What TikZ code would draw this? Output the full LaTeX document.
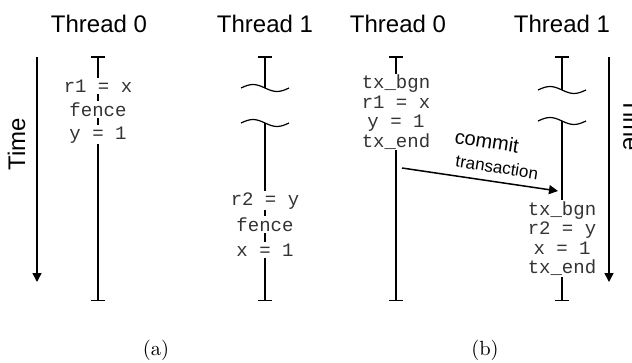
\documentclass[tikz,border=0pt]{standalone}
\usepackage{fontspec}
\newfontfamily\hel{Liberation Sans}
\newfontfamily\cour{Liberation Mono}
\usetikzlibrary{arrows.meta}
\begin{document}
\begin{tikzpicture}[x=1pt,y=-1pt,line width=1.5pt,
  title/.style={font=\hel\fontsize{24}{28}\selectfont,inner sep=0pt},
  timelbl/.style={font=\hel\fontsize{24}{28}\selectfont,inner sep=0pt},
  stmt/.style={font=\cour\fontsize{19}{19.5}\selectfont,text=black!80,fill=white,inner sep=1.5pt,anchor=base},
  blk/.style={font=\cour\fontsize{19}{19.5}\selectfont,text=black!80,fill=white,inner sep=1pt,align=center},
  commitlbl/.style={font=\hel\fontsize{20}{22}\selectfont,inner sep=0pt,rotate=-9},
  translbl/.style={font=\hel\fontsize{17}{19}\selectfont,inner sep=0pt,rotate=-9},
  caplbl/.style={inner sep=0pt},
  wave/.style={line width=1.2pt},
  barboth/.style={{Bar[width=14pt]}-{Bar[width=14pt]}},
  barstart/.style={{Bar[width=14pt]}-},
  barend/.style={-{Bar[width=14pt]}},
  tarrow/.style={-{Triangle[length=9pt,width=9pt]}}]
\useasboundingbox (0,0) rectangle (632,362);

% titles
\node[title] (ta0) at (99,23.5) {Thread 0};
\node[title] (ta1) at (265,23.5) {Thread 1};
\node[title] (tb0) at (398,23.5) {Thread 0};
\node[title] (tb1) at (562,23.5) {Thread 1};

% time arrows
\coordinate (tla) at (37,57);
\coordinate (tlb) at (37,282);
\draw[tarrow] (tla) -- (tlb);
\node[timelbl,rotate=90] (timea) at (16.5,144) {Time};
\coordinate (tra) at (609,57);
\coordinate (trb) at (609,282);
\draw[tarrow] (tra) -- (trb);
\node[timelbl,rotate=-90] (timeb) at (632,125) {Time};

% (a) thread 0
\coordinate (a0t) at (98,56);
\coordinate (a0b) at (98,301);
\draw[barboth] (a0t) -- (a0b);
\node[stmt] (a0s1) at (98,92) {r1 = x};
\node[stmt] (a0s2) at (98,116.5) {fence};
\node[stmt] (a0s3) at (98,139) {y = 1};

% (a) thread 1
\coordinate (a1t) at (265,56);
\coordinate (a1w1) at (265,88);
\coordinate (a1w2) at (265,123);
\coordinate (a1b) at (265,301);
\draw[barstart] (a1t) -- (a1w1);
\draw[wave] (a1w1) ++(-24,0) sin ++(12,-3.5) cos ++(12,3.5) sin ++(12,3.5) cos ++(12,-3.5);
\draw[wave] (a1w2) ++(-24,0) sin ++(12,-3.5) cos ++(12,3.5) sin ++(12,3.5) cos ++(12,-3.5);
\draw[barend] (a1w2) -- (a1b);
\node[stmt] (a1s1) at (265,205) {r2 = y};
\node[stmt] (a1s2) at (265,231.5) {fence};
\node[stmt] (a1s3) at (265,256) {x = 1};

% (b) thread 0
\coordinate (b0t) at (396,56);
\coordinate (b0b) at (396,301);
\draw[barboth] (b0t) -- (b0b);
\node[blk] (b0blk) at (396,112) {tx\_bgn\\r1 = x\\y = 1\\tx\_end};

% (b) thread 1
\coordinate (b1t) at (562,56);
\coordinate (b1w1) at (562,90);
\coordinate (b1w2) at (562,121);
\coordinate (b1b) at (562,301);
\draw[barstart] (b1t) -- (b1w1);
\draw[wave] (b1w1) ++(-24,0) sin ++(12,-3.5) cos ++(12,3.5) sin ++(12,3.5) cos ++(12,-3.5);
\draw[wave] (b1w2) ++(-24,0) sin ++(12,-3.5) cos ++(12,3.5) sin ++(12,3.5) cos ++(12,-3.5);
\draw[barend] (b1w2) -- (b1b);
\node[blk] (b1blk) at (562,238.5) {tx\_bgn\\r2 = y\\x = 1\\tx\_end};

% commit arrow
\coordinate (cs) at (402,168);
\coordinate (ce) at (558,191);
\draw[tarrow] (cs) -- (ce);
\node[commitlbl] (cm) at (487,141) {commit};
\node[translbl] (tr) at (497,167) {transaction};

% captions
\node[caplbl] (capa) at (156,350) {\scalebox{2.05}{(a)}};
\node[caplbl] (capb) at (485,350) {\scalebox{2.05}{(b)}};
\end{tikzpicture}
\end{document}
